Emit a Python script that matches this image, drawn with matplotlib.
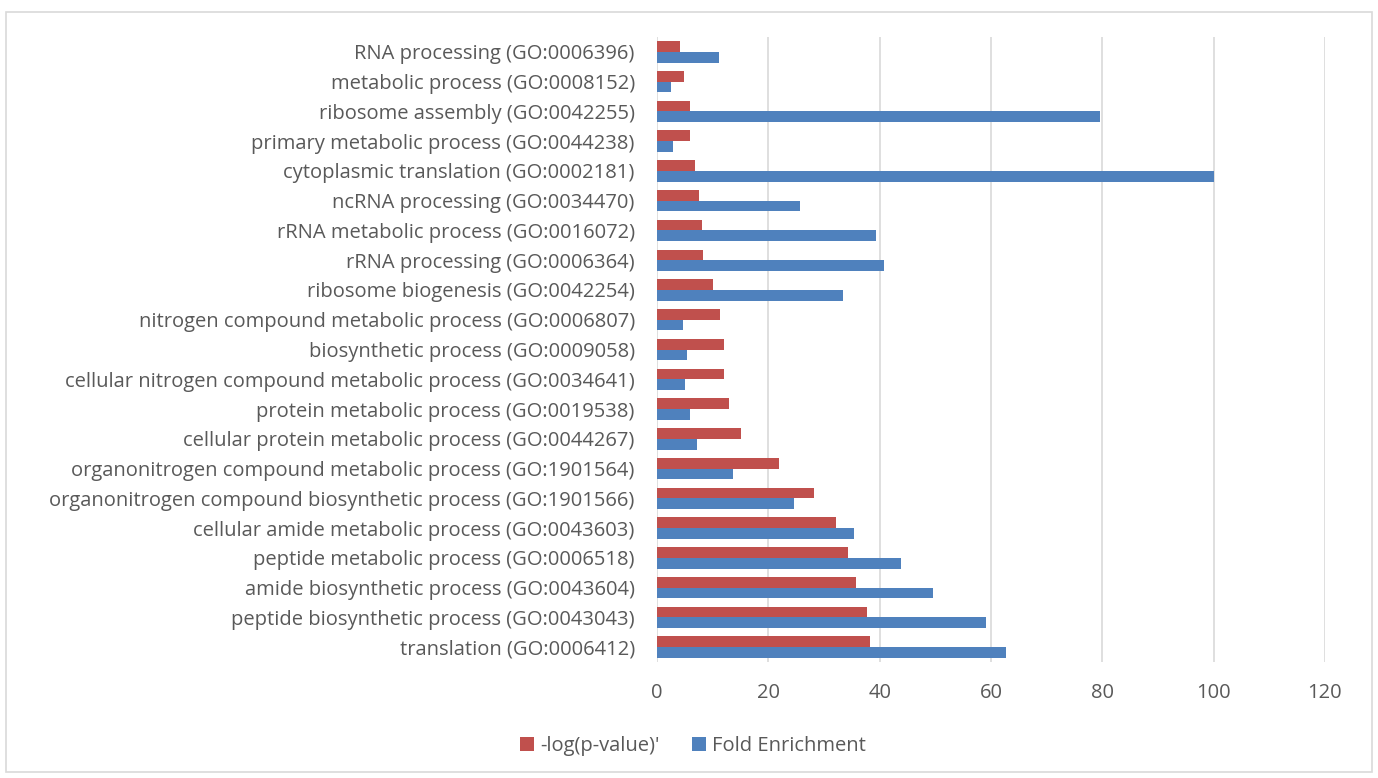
import numpy as np
import matplotlib.pyplot as plt
from matplotlib.patches import Rectangle

# GO terms, bottom of the chart first
terms = [
    "translation (GO:0006412)",
    "peptide biosynthetic process (GO:0043043)",
    "amide biosynthetic process (GO:0043604)",
    "peptide metabolic process (GO:0006518)",
    "cellular amide metabolic process (GO:0043603)",
    "organonitrogen compound biosynthetic process (GO:1901566)",
    "organonitrogen compound metabolic process (GO:1901564)",
    "cellular protein metabolic process (GO:0044267)",
    "protein metabolic process (GO:0019538)",
    "cellular nitrogen compound metabolic process (GO:0034641)",
    "biosynthetic process (GO:0009058)",
    "nitrogen compound metabolic process (GO:0006807)",
    "ribosome biogenesis (GO:0042254)",
    "rRNA processing (GO:0006364)",
    "rRNA metabolic process (GO:0016072)",
    "ncRNA processing (GO:0034470)",
    "cytoplasmic translation (GO:0002181)",
    "primary metabolic process (GO:0044238)",
    "ribosome assembly (GO:0042255)",
    "metabolic process (GO:0008152)",
    "RNA processing (GO:0006396)",
]
neg_log_p = [38.3, 37.7, 35.8, 34.4, 32.1, 28.2, 21.9, 15.0, 13.0, 12.1, 12.0,
             11.3, 10.1, 8.2, 8.0, 7.6, 6.8, 6.0, 6.0, 4.8, 4.2]
fold_enrichment = [62.7, 59.1, 49.6, 43.8, 35.4, 24.6, 13.7, 7.2, 6.0, 5.0, 5.4,
                   4.6, 33.5, 40.8, 39.4, 25.6, 100.1, 2.8, 79.6, 2.5, 11.2]

red = "#C0504D"
blue = "#4F81BD"
text_col = "#595959"
grid_col = "#D9D9D9"

plt.rcParams['font.family'] = ['Open Sans', 'DejaVu Sans']

fig = plt.figure(figsize=(13.78, 7.78), dpi=100)
ax = fig.add_axes([0.4768, 0.1491, 0.4847, 0.8033])

y = np.arange(len(terms))
h = 0.36
ax.barh(y + h / 2, neg_log_p, height=h, color=red, label="-log(p-value)'", zorder=3)
ax.barh(y - h / 2, fold_enrichment, height=h, color=blue, label="Fold Enrichment", zorder=3)

ax.set_xlim(0, 120)
ax.set_ylim(-0.5, len(terms) - 0.5)
ax.set_xticks(range(0, 121, 20))
ax.set_yticks(y)
ax.set_yticklabels(terms)
ax.tick_params(axis='both', length=0, labelsize=14.5, colors=text_col)
ax.tick_params(axis='x', pad=15)
ax.tick_params(axis='y', pad=16)
ax.grid(axis='x', color=grid_col, linewidth=1.2, zorder=0)
for s in ax.spines.values():
    s.set_visible(False)

handles, labels = ax.get_legend_handles_labels()
leg = fig.legend(handles, labels, loc='center', bbox_to_anchor=(0.503, 0.041),
                 ncol=2, frameon=False, fontsize=14.5, handlelength=0.7, handleheight=0.7,
                 handletextpad=0.3, columnspacing=1.6)
for t in leg.get_texts():
    t.set_color(text_col)

# light frame around the whole chart
fig.patches.append(Rectangle((0.0045, 0.008), 0.991, 0.976, transform=fig.transFigure,
                             fill=False, edgecolor=grid_col, linewidth=1.2))

fig.savefig("out.png", dpi=100)
